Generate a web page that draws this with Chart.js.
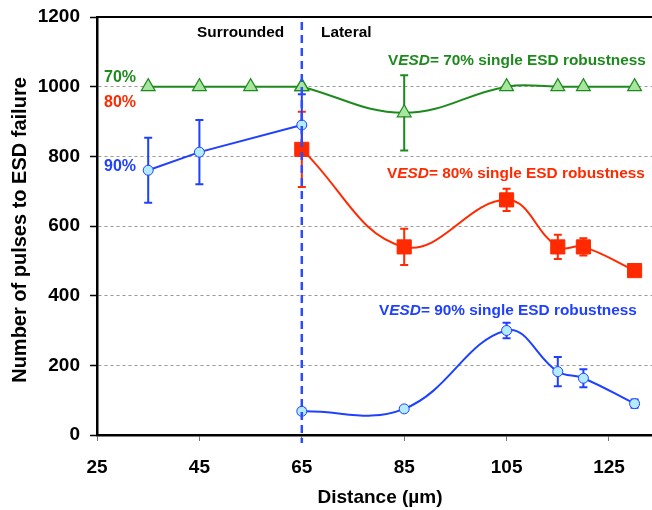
<!DOCTYPE html>
<html>
<head>
<meta charset="utf-8">
<script src="https://cdn.jsdelivr.net/npm/chart.js@4.4.0/dist/chart.umd.min.js"></script>
<style>
body{margin:0;background:#fff;}
#wrap{width:652px;height:510px;}
</style>
</head>
<body>
<div id="wrap"><canvas id="myChart" width="652" height="510"></canvas></div>
<script>
var xTicks = [25, 45, 65, 85, 105, 125];
var yTicks = [0, 200, 400, 600, 800, 1000, 1200];

var greenLeftX = [35, 45, 55, 65];
var greenLeftY = [1000, 1000, 1000, 1000];
var greenRightX = [65, 85, 105, 115, 120, 130];
var greenRightY = [1000, 925, 1000, 1000, 1000, 1000];
var greenRightErr = [0, 108, 0, 0, 0, 0];

var redX = [65, 85, 105, 115, 120, 130];
var redY = [820, 540, 675, 540, 540, 472];
var redErr = [108, 52, 32, 35, 25, 12];

var blueLeftX = [35, 45, 65];
var blueLeftY = [760, 812, 890];
var blueLeftErr = [93, 92, 88];

var blueRightX = [65, 85, 105, 115, 120, 130];
var blueRightY = [68, 75, 300, 182, 163, 90];
var blueRightErr = [8, 0, 22, 42, 26, 12];

var green = "#1e8a1e", greenFill = "#a8e6a0";
var red = "#ff2a00";
var blue = "#1f40ff", blueFill = "#b4ecff";
var FONT = "Arial, 'Liberation Sans', sans-serif";

function pts(xs, ys){
    let out = [];
    for(let i=0;i<xs.length;i++){
        out.push({x: xs[i], y: ys[i]});
    }
    return out;
}

Chart.defaults.font.family = FONT;
Chart.defaults.color = "#000";

// error bars, under the markers
const errorBars = {
    id: "errorBars",
    beforeDatasetsDraw(chart){
        const ctx = chart.ctx;
        const xs = chart.scales.x, ys = chart.scales.y;
        chart.data.datasets.forEach(function(ds){
            if(!ds.errors) return;
            ctx.save();
            ctx.strokeStyle = ds.borderColor;
            ctx.lineWidth = 2;
            ds.data.forEach(function(p, i){
                let e = ds.errors[i];
                if(!e) return;
                let px = xs.getPixelForValue(p.x);
                let top = ys.getPixelForValue(p.y + e);
                let bot = ys.getPixelForValue(p.y - e);
                ctx.beginPath();
                ctx.moveTo(px, top); ctx.lineTo(px, bot);
                ctx.moveTo(px-4, top); ctx.lineTo(px+4, top);
                ctx.moveTo(px-4, bot); ctx.lineTo(px+4, bot);
                ctx.stroke();
            });
            ctx.restore();
        });
    }
};

function drawParts(ctx, x, y, parts, color){
    ctx.fillStyle = color;
    ctx.textBaseline = "middle";
    ctx.textAlign = "left";
    parts.forEach(function(p){
        ctx.font = p[1];
        ctx.fillText(p[0], x, y);
        x += ctx.measureText(p[0]).width;
    });
}

const decorations = {
    id: "decorations",
    afterDatasetsDraw(chart){
        const ctx = chart.ctx;
        const a = chart.chartArea;
        const px = chart.scales.x.getPixelForValue(65);
        ctx.save();
        ctx.strokeStyle = "#2a4cff";
        ctx.lineWidth = 2.5;
        ctx.setLineDash([8, 5]);
        ctx.beginPath();
        ctx.moveTo(px, a.top + 5);
        ctx.lineTo(px, a.bottom + 8);
        ctx.stroke();
        ctx.restore();
    },
    afterDraw(chart){
        const ctx = chart.ctx;
        const a = chart.chartArea;
        ctx.save();
        // top frame line
        ctx.strokeStyle = "#000";
        ctx.lineWidth = 2;
        ctx.beginPath();
        ctx.moveTo(a.left, a.top);
        ctx.lineTo(a.right, a.top);
        ctx.stroke();

        // axis titles
        ctx.fillStyle = "#000";
        ctx.textAlign = "center";
        ctx.textBaseline = "middle";
        ctx.font = "bold 19px " + FONT;
        ctx.fillText("Distance (µm)", 380, 498);
        ctx.save();
        ctx.translate(20, 230);
        ctx.rotate(-Math.PI/2);
        ctx.font = "bold 20px " + FONT;
        ctx.fillText("Number of pulses to ESD failure", 0, 0);
        ctx.restore();

        const b = "bold 15.4px " + FONT, bi = "italic bold 15.4px " + FONT;
        const b2 = "bold 16px " + FONT;
        drawParts(ctx, 197, 33, [["Surrounded", b]], "#000");
        drawParts(ctx, 321, 33, [["Lateral", b]], "#000");
        drawParts(ctx, 104, 78, [["70%", b2]], green);
        drawParts(ctx, 104, 103, [["80%", b2]], red);
        drawParts(ctx, 104, 167, [["90%", b2]], blue);
        drawParts(ctx, 388, 61, [["V", b], ["ESD", bi], ["= 70% single ESD robustness", b]], green);
        drawParts(ctx, 387, 174, [["V", b], ["ESD", bi], ["= 80% single ESD robustness", b]], red);
        drawParts(ctx, 379, 311, [["V", b], ["ESD", bi], ["= 90% single ESD robustness", b]], blue);
        ctx.restore();
    }
};

new Chart("myChart", {
type: "line",
data: {
    datasets: [{
        data: pts(greenLeftX, greenLeftY),
        borderColor: green, backgroundColor: greenFill,
        borderWidth: 2, tension: 0,
        pointStyle: "triangle", pointRadius: 8, pointBorderWidth: 1.2
    }, {
        data: pts(greenRightX, greenRightY),
        errors: greenRightErr,
        borderColor: green, backgroundColor: greenFill,
        borderWidth: 2, tension: 0.4,
        pointStyle: "triangle", pointRadius: 8, pointBorderWidth: 1.2
    }, {
        data: pts(redX, redY),
        errors: redErr,
        borderColor: red, backgroundColor: red,
        borderWidth: 2, tension: 0.4,
        pointStyle: "rect", pointRadius: 10, pointBorderWidth: 1
    }, {
        data: pts(blueLeftX, blueLeftY),
        errors: blueLeftErr,
        borderColor: blue, backgroundColor: blueFill,
        borderWidth: 2, tension: 0,
        pointStyle: "circle", pointRadius: 5, pointBorderWidth: 1
    }, {
        data: pts(blueRightX, blueRightY),
        errors: blueRightErr,
        borderColor: blue, backgroundColor: blueFill,
        borderWidth: 2, tension: 0.4,
        pointStyle: "circle", pointRadius: 5, pointBorderWidth: 1
    }]
},
options: {
    responsive: false,
    animation: false,
    devicePixelRatio: 1,
    layout: {autoPadding: false, padding: {top: 17, left: 0, right: 0, bottom: 0}},
    scales: {
        x: {
            type: "linear",
            min: 25, max: 133.4,
            afterBuildTicks: function(s){ s.ticks = xTicks.map(v => ({value: v})); },
            afterFit: function(s){ s.height = 75; s.paddingLeft = 0; s.paddingRight = 0; },
            grid: {drawOnChartArea: false, tickLength: 6, tickColor: "#777", tickWidth: 1},
            border: {color: "#000", width: 2.5},
            ticks: {font: {size: 19, weight: "bold"}, color: "#000", padding: 15, maxRotation: 0}
        },
        y: {
            min: 0, max: 1200,
            afterBuildTicks: function(s){ s.ticks = yTicks.map(v => ({value: v})); },
            afterFit: function(s){ s.width = 97; s.paddingTop = 0; s.paddingBottom = 0; },
            grid: {
                color: function(c){ return (c.tick && (c.tick.value === 0 || c.tick.value === 1200)) ? "rgba(0,0,0,0)" : "#999"; },
                lineWidth: 1, tickLength: 7, tickColor: "#000", tickWidth: 1.5
            },
            border: {color: "#000", width: 2.5, dash: [3, 3]},
            ticks: {
                font: {size: 19, weight: "bold"}, color: "#000", padding: 10,
                callback: function(v){ return String(v); }
            }
        }
    },
    plugins: {
        legend: {display: false},
        tooltip: {enabled: false}
    }
},
plugins: [errorBars, decorations]
});
</script>
</body>
</html>
